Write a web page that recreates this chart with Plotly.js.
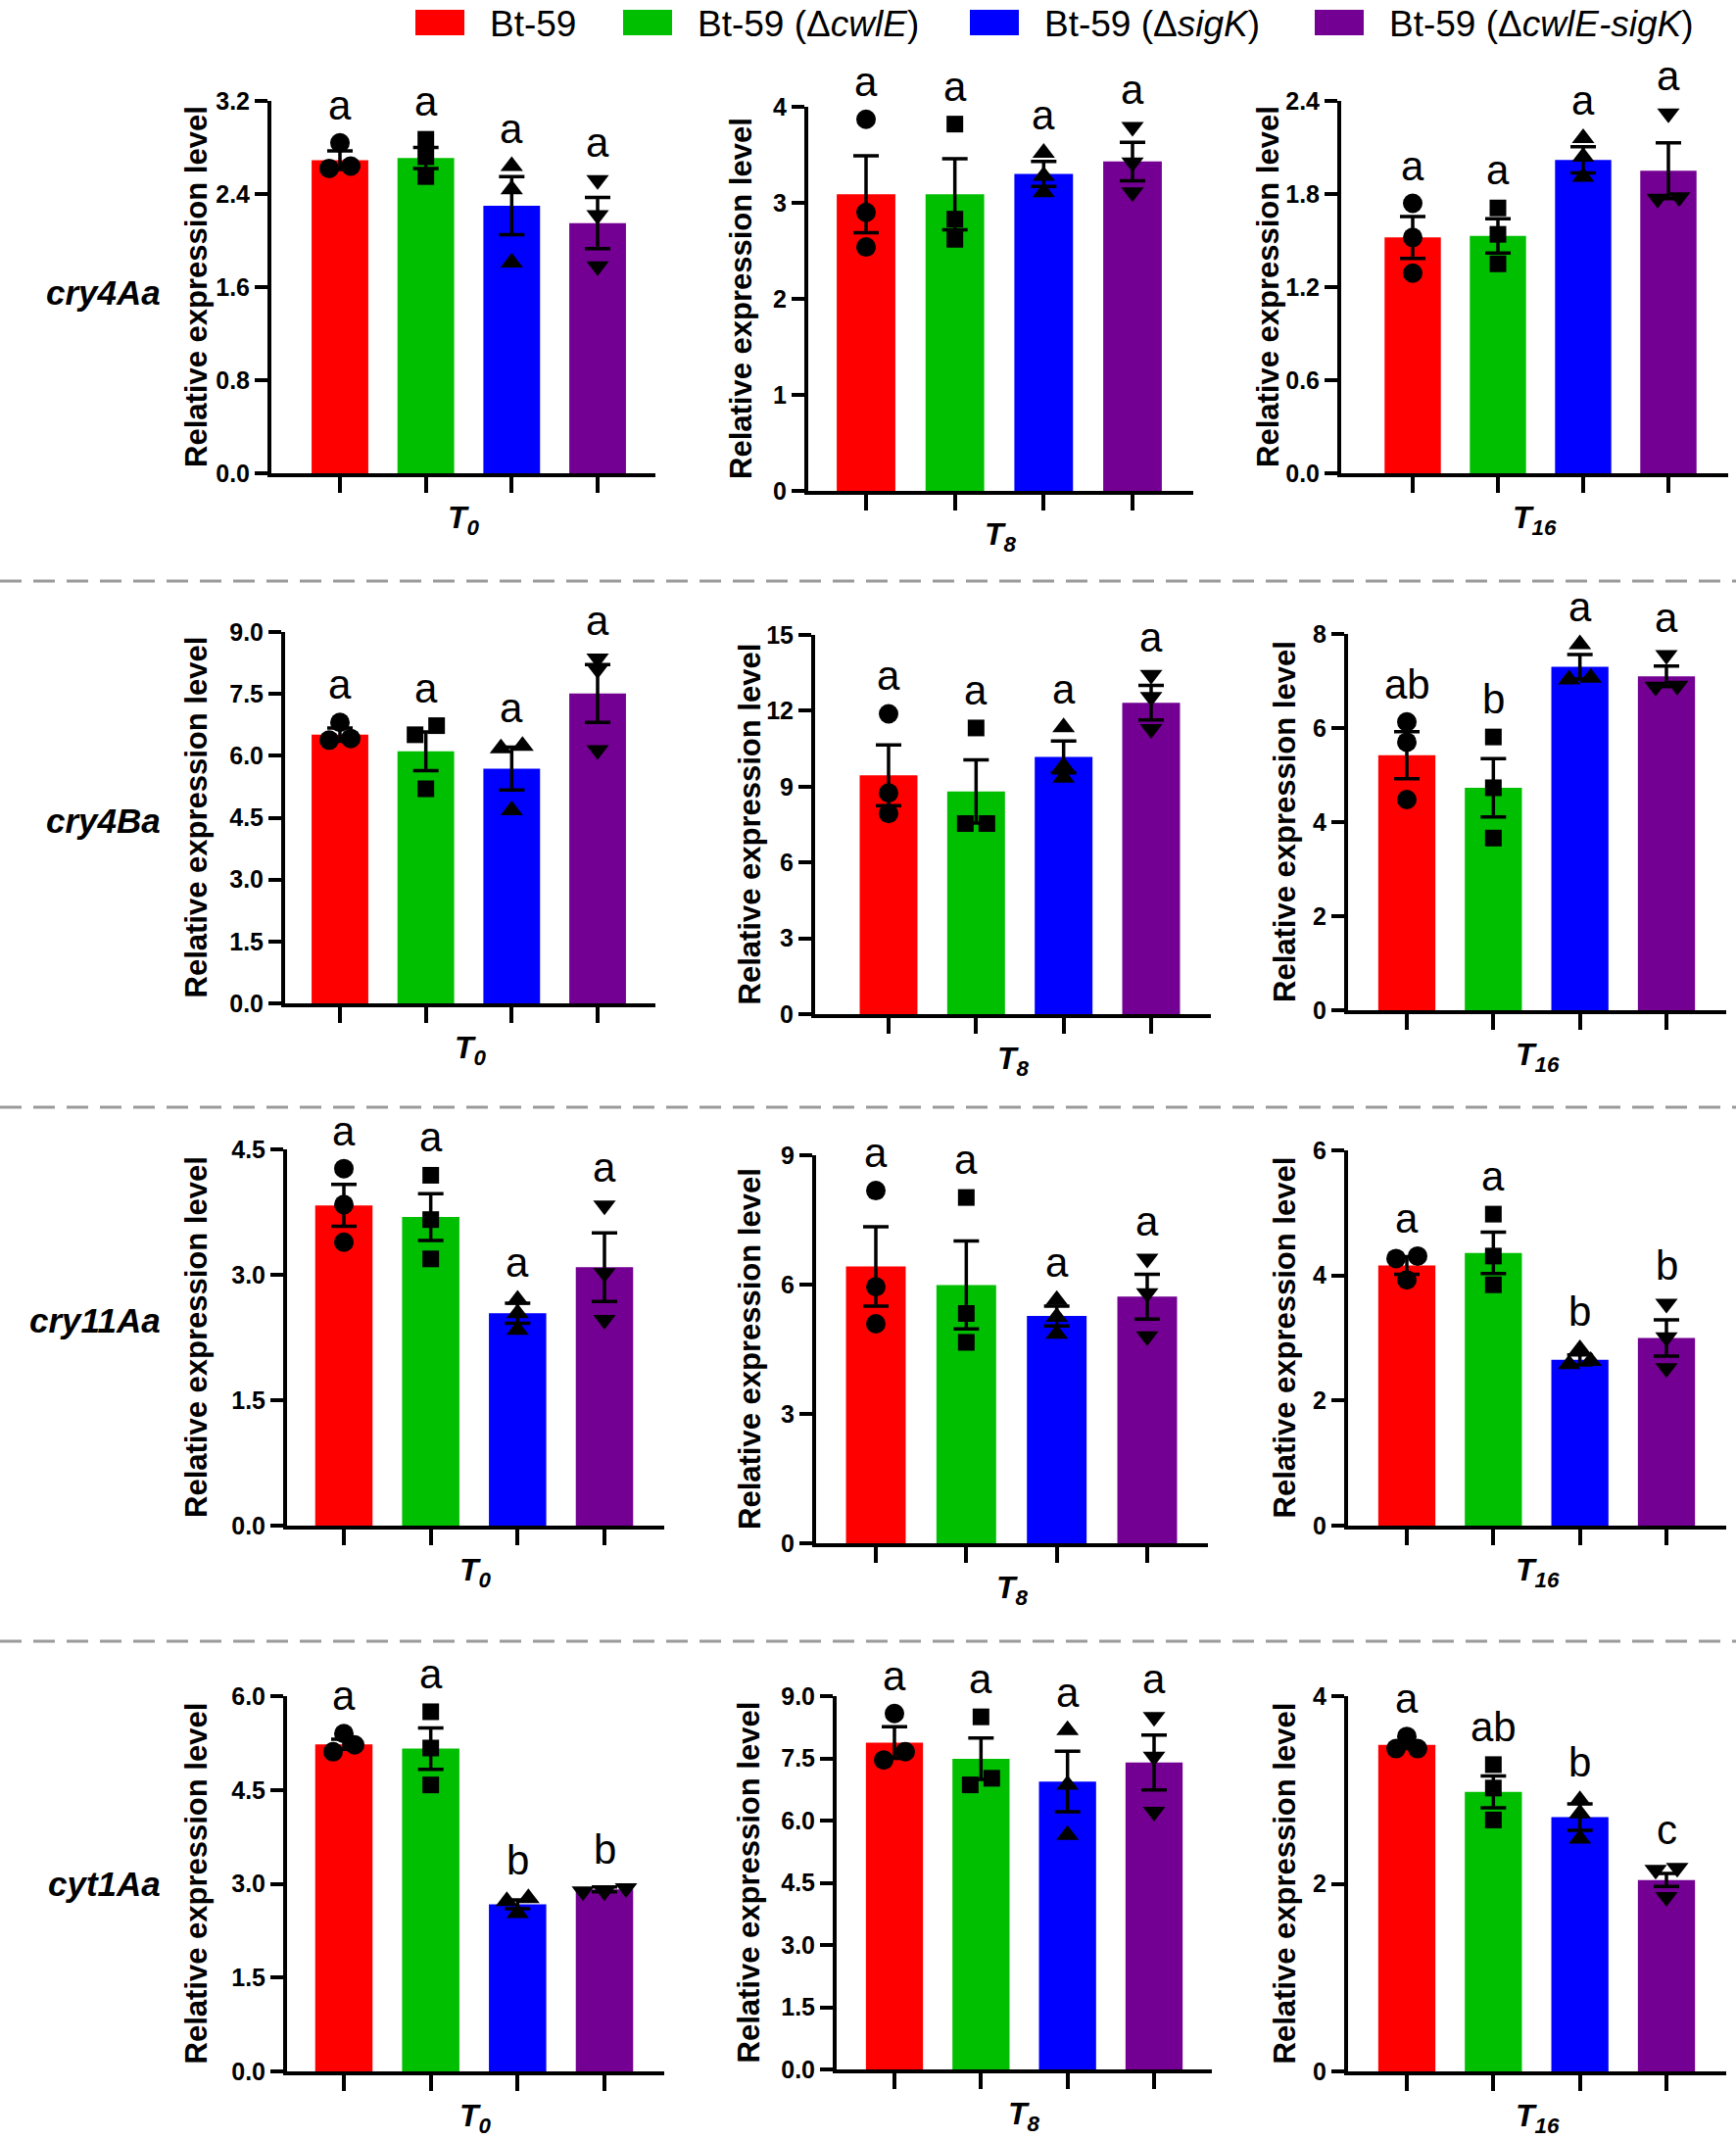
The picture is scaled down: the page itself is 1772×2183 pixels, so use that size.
<!DOCTYPE html>
<html>
<head>
<meta charset="utf-8">
<script src="https://cdn.plot.ly/plotly-3.0.1.min.js"></script>
<style>
  body { margin: 0; background: #fff; }
  #chart { width: 1772px; height: 2183px; }
</style>
</head>
<body>
<div id="chart"></div>
<script>
// Data
const genes = ['cry4Aa', 'cry4Ba', 'cry11Aa', 'cyt1Aa'];
const times = ['0', '8', '16'];
const strains = ['Bt-59', 'Bt-59 (Δ<i>cwlE</i>)', 'Bt-59 (Δ<i>sigK</i>)', 'Bt-59 (Δ<i>cwlE-sigK</i>)'];
const colors = ['#ff0000', '#00bf00', '#0000ff', '#730092'];
const symbols = ['circle', 'square', 'triangle-up', 'triangle-down'];

// means[gene][time][strain]
const means = [
  [[2.69, 2.71, 2.30, 2.15], [3.09, 3.09, 3.30, 3.43], [1.52, 1.53, 2.02, 1.95]],
  [[6.51, 6.11, 5.69, 7.51], [9.45, 8.81, 10.17, 12.32], [5.42, 4.73, 7.30, 7.10]],
  [[3.83, 3.69, 2.54, 3.09], [6.42, 5.99, 5.27, 5.72], [4.16, 4.36, 2.65, 3.00]],
  [[5.23, 5.16, 2.67, 2.91], [7.88, 7.49, 6.94, 7.40], [3.48, 2.98, 2.71, 2.04]]
];
const sems = [
  [[0.08, 0.09, 0.25, 0.22], [0.40, 0.37, 0.13, 0.20], [0.135, 0.11, 0.085, 0.18]],
  [[0.16, 0.47, 0.52, 0.70], [1.20, 1.25, 0.63, 0.68], [0.50, 0.62, 0.26, 0.22]],
  [[0.25, 0.28, 0.12, 0.41], [0.92, 1.02, 0.23, 0.52], [0.14, 0.33, 0.08, 0.29]],
  [[0.08, 0.33, 0.07, 0.04], [0.38, 0.50, 0.73, 0.66], [0.04, 0.17, 0.14, 0.07]]
];
const points = [
  [[[2.84, 2.62, 2.64], [2.87, 2.72, 2.55], [2.64, 2.44, 1.81], [2.52, 2.22, 1.78]],
   [[3.87, 2.90, 2.54], [3.82, 2.83, 2.62], [3.52, 3.28, 3.11], [3.79, 3.42, 3.11]],
   [[1.74, 1.52, 1.29], [1.71, 1.54, 1.35], [2.16, 2.04, 1.91], [2.32, 1.78, 1.77]]],
  [[[6.81, 6.38, 6.42], [6.73, 6.51, 5.20], [6.24, 6.18, 4.68], [8.36, 8.10, 6.14]],
   [[11.88, 8.75, 7.94], [11.32, 7.54, 7.54], [11.35, 9.81, 9.35], [13.42, 12.55, 11.28]],
   [[6.13, 5.70, 4.48], [5.81, 4.73, 3.66], [7.78, 7.07, 7.03], [7.55, 6.90, 6.88]]],
  [[[4.27, 3.84, 3.39], [4.19, 3.66, 3.19], [2.70, 2.54, 2.34], [3.83, 3.02, 2.46]],
   [[8.18, 5.95, 5.09], [8.02, 5.33, 4.66], [5.64, 5.25, 4.86], [6.60, 5.80, 4.80]],
   [[4.31, 4.27, 3.93], [4.98, 4.31, 3.85], [2.82, 2.63, 2.58], [3.55, 3.01, 2.52]]],
  [[[5.40, 5.22, 5.11], [5.75, 5.17, 4.58], [2.77, 2.72, 2.53], [2.88, 2.93, 2.88]],
   [[8.58, 7.66, 7.46], [8.50, 7.02, 6.86], [8.18, 6.86, 5.65], [8.50, 7.54, 6.21]],
   [[3.57, 3.44, 3.44], [3.27, 3.02, 2.68], [2.89, 2.75, 2.48], [2.17, 2.15, 1.86]]]
];
const letters = [
  [['a', 'a', 'a', 'a'], ['a', 'a', 'a', 'a'], ['a', 'a', 'a', 'a']],
  [['a', 'a', 'a', 'a'], ['a', 'a', 'a', 'a'], ['ab', 'b', 'a', 'a']],
  [['a', 'a', 'a', 'a'], ['a', 'a', 'a', 'a'], ['a', 'a', 'b', 'b']],
  [['a', 'a', 'b', 'b'], ['a', 'a', 'a', 'a'], ['a', 'ab', 'b', 'c']]
];
// y axis: [max, step, format]
const yTicks = [
  [[3.2, 0.8, '.1f'], [4, 1, 'd'], [2.4, 0.6, '.1f']],
  [[9, 1.5, '.1f'], [15, 3, 'd'], [8, 2, 'd']],
  [[4.5, 1.5, '.1f'], [9, 3, 'd'], [6, 2, 'd']],
  [[6, 1.5, '.1f'], [9, 1.5, '.1f'], [4, 2, 'd']]
];

// Panel geometry in px: [axisLeft, axisRight, firstTick, lastTick, zeroY, topY]
const W = 1772, H = 2183;
const boxes = [
  [[277, 669, 347, 610, 483, 103], [825, 1218, 884, 1156, 501, 109], [1369, 1764, 1442, 1703, 483, 103]],
  [[291, 669, 347, 610, 1024, 645], [832, 1236, 907, 1175, 1035, 648], [1376, 1762, 1436, 1701, 1031, 647]],
  [[293, 678, 351, 617, 1557, 1173], [833, 1233, 894, 1171, 1575, 1179], [1376, 1762, 1436, 1701, 1557, 1174]],
  [[293, 678, 351, 617, 2114, 1731], [854, 1237, 913, 1178, 2112, 1731], [1376, 1762, 1436, 1701, 2114, 1731]]
];
const yTitleX = [[200, 756, 1294], [200, 765, 1311], [200, 765, 1311], [200, 764, 1311]];
const geneY = [298, 838, 1347, 1922];
const dividerY = [593, 1130, 1675];

const FONT = '"Liberation Sans", Arial, sans-serif';
const px = v => v / W;
const py = v => 1 - v / H;

// spread overlapping dots sideways, like a dot plot does
function spread(vals, ppu, sp) {
  const order = vals.map((v, i) => i).sort((a, b) => vals[a] - vals[b]);
  const offs = new Array(vals.length).fill(0);
  let cluster = [order[0]];
  const flush = () => {
    const n = cluster.length;
    cluster.forEach((idx, i) => { offs[idx] = (i - (n - 1) / 2) * 22 / sp; });
  };
  for (let i = 1; i < order.length; i++) {
    if ((vals[order[i]] - vals[order[i - 1]]) * ppu < 10) cluster.push(order[i]);
    else { flush(); cluster = [order[i]]; }
  }
  flush();
  return offs;
}

const traces = [];
const annotations = [];
const shapes = [];
const layout = {
  width: W, height: H,
  margin: { l: 0, r: 0, t: 0, b: 0 },
  paper_bgcolor: '#fff', plot_bgcolor: 'rgba(0,0,0,0)',
  showlegend: false,
  font: { family: FONT, color: '#000' },
  annotations: annotations,
  shapes: shapes
};

genes.forEach((gene, r) => {
  times.forEach((t, c) => {
    const k = r * 3 + c;
    const id = k === 0 ? '' : String(k + 1);
    const [x0, x1, t0, t3, y0, yt] = boxes[r][c];
    const sp = (t3 - t0) / 3;
    const [yMax, step, fmt] = yTicks[r][c];
    const ppu = (y0 - yt) / yMax;

    layout['xaxis' + id] = {
      domain: [px(x0), px(x1)], range: [(x0 - t0) / sp, 3 + (x1 - t3) / sp],
      anchor: 'y' + id, showline: true, linewidth: 4, linecolor: '#000',
      ticks: 'outside', ticklen: 16, tickwidth: 4, tickcolor: '#000',
      tickvals: [0, 1, 2, 3], showticklabels: false,
      showgrid: false, zeroline: false, fixedrange: true
    };
    layout['yaxis' + id] = {
      domain: [py(y0), py(yt)], range: [0, yMax],
      anchor: 'x' + id, showline: true, linewidth: 4, linecolor: '#000',
      ticks: 'outside', ticklen: 13, tickwidth: 4, tickcolor: '#000',
      tick0: 0, dtick: step, tickformat: fmt,
      tickfont: { family: FONT, size: 25, color: '#000', weight: 'bold' },
      showgrid: false, zeroline: false, fixedrange: true
    };

    traces.push({
      type: 'bar', x: [0, 1, 2, 3], y: means[r][c], width: 0.66,
      marker: { color: colors, line: { width: 0 } },
      error_y: { type: 'data', array: sems[r][c], visible: true, color: '#000', thickness: 3.5, width: 13 },
      xaxis: 'x' + id, yaxis: 'y' + id, hoverinfo: 'skip', cliponaxis: false
    });

    strains.forEach((s, j) => {
      const vals = points[r][c][j];
      const offs = spread(vals, ppu, sp);
      traces.push({
        type: 'scatter', mode: 'markers',
        x: vals.map((v, i) => j + offs[i]), y: vals,
        marker: { symbol: symbols[j], color: '#000', size: j === 1 ? 17 : 20, line: { width: 0 } },
        xaxis: 'x' + id, yaxis: 'y' + id, hoverinfo: 'skip', cliponaxis: false
      });
      const top = Math.max(...vals, means[r][c][j] + sems[r][c][j]);
      annotations.push({
        xref: 'x' + id, yref: 'y' + id, x: j, y: top, yshift: 13,
        xanchor: 'center', yanchor: 'bottom', showarrow: false,
        text: letters[r][c][j], font: { family: FONT, size: 42, color: '#000' }
      });
    });

    // x title (time point)
    annotations.push({
      xref: 'paper', yref: 'paper', x: px((x0 + x1) / 2), y: py(y0 + 47),
      xanchor: 'center', yanchor: 'middle', showarrow: false,
      text: '<b><i>T<sub>' + t + '</sub></i></b>', font: { family: FONT, size: 32, color: '#000' }
    });
    // y title
    annotations.push({
      xref: 'paper', yref: 'paper', x: px(yTitleX[r][c]), y: py((y0 + yt) / 2),
      xanchor: 'center', yanchor: 'middle', showarrow: false, textangle: -90,
      text: '<b>Relative expression level</b>', font: { family: FONT, size: 31, color: '#000' }
    });
  });

  // gene label, right-aligned left of the first panel
  annotations.push({
    xref: 'paper', yref: 'paper', x: px(166), y: py(geneY[r]),
    xanchor: 'right', yanchor: 'middle', showarrow: false,
    text: '<b><i>' + gene + '</i></b>', font: { family: FONT, size: 35, color: '#000' }
  });
});

// dashed dividers between genes
dividerY.forEach(y => {
  shapes.push({
    type: 'line', xref: 'paper', yref: 'paper', x0: 0, x1: 1, y0: py(y), y1: py(y),
    line: { color: '#9a9a9a', width: 3, dash: '22px,12px' }
  });
});

// legend across the top
const legendSwatchX = [424, 636, 990, 1342];
strains.forEach((s, j) => {
  const sx = legendSwatchX[j];
  shapes.push({
    type: 'rect', xref: 'paper', yref: 'paper',
    x0: px(sx), x1: px(sx + 50), y0: py(36), y1: py(10),
    fillcolor: colors[j], line: { width: 0 }
  });
  annotations.push({
    xref: 'paper', yref: 'paper', x: px(sx + 74), y: py(24),
    xanchor: 'left', yanchor: 'middle', showarrow: false,
    text: s, font: { family: FONT, size: 37, color: '#000' }
  });
});

Plotly.newPlot('chart', traces, layout, { staticPlot: true });
</script>
</body>
</html>
